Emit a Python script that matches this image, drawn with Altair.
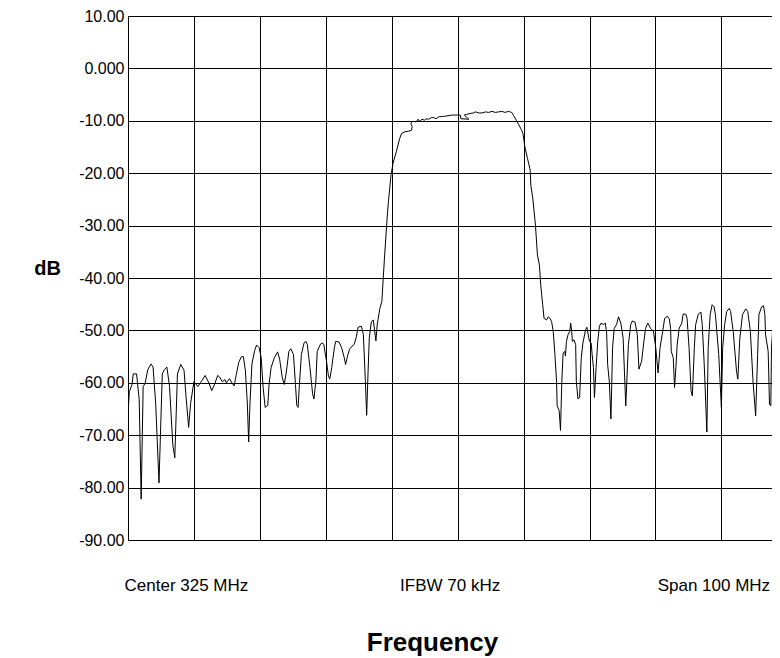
import altair as alt
import pandas as pd

# Trace readings: frequency (MHz) and level (dB)
freq = [275.0, 275.2, 275.6, 275.8, 276.3, 276.7, 277.0, 277.3, 277.6, 278.0, 278.5, 278.8, 279.2, 279.7,
        280.2, 280.5, 280.9, 281.3, 281.8, 282.1, 282.5, 283.0, 283.5, 283.8, 284.2, 284.5, 285.0, 285.6,
        286.1, 286.7, 287.3, 287.7, 288.1, 288.6, 288.9, 289.3, 289.7, 289.9, 290.4, 290.8, 291.1, 291.4,
        291.8, 292.2, 292.5, 292.8, 293.1, 293.3, 293.5, 293.8, 294.2, 294.5, 294.9, 295.2, 295.5, 295.8,
        296.2, 296.4, 296.7, 297.2, 297.7, 298.0, 298.4, 298.7, 299.0, 299.4, 299.7, 300.1, 300.4, 300.6,
        300.8, 301.0, 301.3, 301.7, 302.0, 302.2, 302.6, 303.0, 303.2, 303.5, 303.7, 304.2, 304.5, 304.7,
        305.1, 305.4, 305.6, 305.9, 306.3, 306.5, 307.0, 307.4, 307.8, 308.0, 308.3, 308.6, 309.0, 309.3,
        309.6, 309.9, 310.4, 310.7, 311.0, 311.2, 311.4, 311.6, 311.9, 312.2, 312.4, 312.6, 312.8, 313.2,
        313.5, 313.9, 314.3, 314.5, 314.9, 315.2, 315.7, 316.2, 316.5, 317.0, 317.5, 318.0, 318.1, 317.9,
        318.2, 318.7, 319.0, 319.2, 319.6, 320.0, 320.2, 320.6, 321.0, 321.4, 321.7, 322.2, 322.7, 323.2,
        323.7, 324.2, 325.0, 325.4, 325.5, 326.7, 326.0, 326.3, 326.9, 327.4, 327.7, 328.2, 328.7, 329.2,
        329.7, 330.2, 330.7, 331.2, 331.7, 332.2, 332.7, 333.2, 333.4, 333.9, 334.3, 334.7, 334.9, 335.2,
        335.6, 336.0, 336.1, 336.4, 336.8, 337.1, 337.4, 337.6, 337.9, 338.1, 338.5, 338.75, 339.0, 339.25,
        339.5, 339.75, 340.0, 340.1, 340.4, 340.6, 340.8, 341.0, 341.25, 341.35, 341.5, 341.75, 342.0, 342.15,
        342.3, 342.4, 342.65, 342.9, 343.0, 343.25, 343.5, 343.75, 344.0, 344.4, 344.6, 344.8, 345.0, 345.25,
        345.4, 345.6, 345.75, 346.0, 346.25, 346.5, 346.75, 347.1, 347.4, 347.6, 347.75, 348.0, 348.25, 348.5,
        348.75, 349.1, 349.4, 349.75, 350.1, 350.5, 350.9, 351.25, 351.5, 351.9, 352.25, 352.5, 352.9, 353.25,
        353.5, 353.85, 354.25, 354.7, 355.05, 355.4, 355.7, 356.1, 356.4, 356.8, 357.1, 357.3, 357.4, 357.7,
        357.9, 358.1, 358.3, 358.6, 359.0, 359.2, 359.6, 359.8, 360.1, 360.4, 360.6, 360.9, 361.1, 361.5,
        361.9, 362.1, 362.4, 362.8, 363.0, 363.3, 363.6, 363.9, 364.1, 364.6, 365.0, 365.2, 365.5, 365.8,
        366.2, 366.4, 366.8, 367.3, 367.5, 367.8, 368.2, 368.7, 369.0, 369.4, 369.8, 370.2, 370.5, 370.7,
        371.1, 371.4, 371.6, 371.7, 372.1, 372.3, 372.5, 372.6, 372.9, 373.2, 373.5, 373.7, 374.0, 374.4,
        374.7, 375.0]
db = [-66.0, -61.7, -60.4, -58.3, -58.3, -63.2, -82.2, -60.7, -60.1, -57.5, -56.4, -57.0, -63.9, -79.1,
      -58.3, -57.5, -57.0, -60.7, -71.9, -74.3, -58.3, -56.5, -57.6, -62.6, -68.5, -63.9, -59.8, -60.7,
      -59.8, -58.6, -60.1, -61.5, -60.4, -58.6, -58.9, -59.8, -59.4, -60.0, -59.2, -60.1, -60.6, -58.6,
      -56.1, -55.0, -55.0, -57.6, -63.9, -71.3, -63.9, -56.4, -53.9, -52.8, -53.3, -55.2, -60.9, -64.7,
      -64.3, -60.3, -57.1, -55.2, -54.1, -55.5, -59.0, -60.3, -58.1, -54.0, -53.5, -54.6, -60.3, -64.3,
      -64.7, -60.3, -54.6, -52.4, -52.1, -52.7, -57.1, -62.1, -63.1, -59.6, -54.0, -52.6, -52.4, -52.7,
      -55.8, -58.7, -59.3, -57.1, -53.3, -52.1, -52.2, -53.3, -55.2, -56.5, -54.9, -53.6, -53.0, -52.7,
      -51.4, -49.4, -49.2, -50.8, -59.6, -66.2, -58.4, -51.4, -48.4, -48.0, -49.9, -52.0, -48.9, -45.8,
      -44.5, -36.2, -28.6, -25.4, -20.3, -18.1, -15.9, -13.4, -12.4, -12.1, -12.0, -11.8, -11.1, -10.5,
      -10.1, -10.2, -9.7, -10.1, -9.7, -9.9, -9.6, -9.7, -9.4, -9.4, -9.6, -9.2, -9.2, -9.1,
      -9.0, -8.9, -8.9, -8.9, -9.6, -9.7, -8.9, -8.8, -8.6, -8.5, -8.3, -8.5, -8.5, -8.3,
      -8.4, -8.2, -8.4, -8.3, -8.2, -8.4, -8.2, -8.4, -8.8, -9.9, -10.8, -11.8, -12.4, -15.0,
      -17.2, -19.4, -22.3, -24.8, -29.9, -35.6, -37.5, -41.3, -45.1, -47.7, -48.0, -47.4, -47.7, -48.3,
      -50.2, -54.6, -59.7, -64.4, -65.3, -69.1, -59.7, -54.3, -54.0, -54.9, -52.1, -50.8, -50.2, -48.6,
      -50.2, -52.1, -51.8, -52.7, -59.7, -63.1, -62.8, -55.2, -52.4, -49.9, -49.4, -50.8, -52.1, -52.4,
      -54.6, -57.1, -62.8, -57.1, -52.1, -49.2, -48.6, -48.9, -48.6, -50.5, -56.5, -59.7, -66.9, -53.3,
      -49.6, -48.9, -47.4, -48.6, -51.5, -64.4, -52.7, -48.9, -48.2, -48.4, -50.8, -57.4, -55.9, -52.1,
      -49.6, -48.6, -49.6, -50.2, -53.3, -58.1, -53.3, -50.2, -47.7, -47.3, -47.8, -49.6, -54.0, -55.2,
      -60.9, -57.1, -52.7, -49.6, -48.6, -46.9, -46.9, -47.7, -53.3, -61.5, -62.5, -53.3, -48.9, -46.9,
      -46.5, -48.9, -56.5, -69.4, -53.3, -47.0, -45.1, -45.5, -47.0, -54.6, -64.7, -53.3, -48.9, -46.4,
      -45.8, -46.4, -50.2, -57.8, -59.3, -51.5, -47.0, -45.9, -46.4, -50.2, -59.7, -66.3, -54.6, -47.0,
      -45.5, -45.3, -47.0, -50.8, -54.0, -64.1, -64.4, -53.3, -47.7, -46.7, -46.4, -46.7, -49.9, -55.0,
      -48.0, -46.5]

y_ticks = [10, 0, -10, -20, -30, -40, -50, -60, -70, -80, -90]
x_grid = [275, 285, 295, 305, 315, 325, 335, 345, 355, 365]
x_label_at = [285, 325, 365]
x_label_text = ["Center 325 MHz", "IFBW 70 kHz", "Span 100 MHz"]

df = pd.DataFrame({"freq": freq, "db": db, "idx": list(range(len(freq)))})

label_expr = " : ".join(
    f"datum.value == {v} ? '{t}'" for v, t in zip(x_label_at, x_label_text)
) + " : ''"

y_label_expr = ("datum.value == 0 ? '0.000' : "
                "(datum.value < 0 ? '-' + format(-datum.value, '.2f') : format(datum.value, '.2f'))")

FONT = "Liberation Sans"

chart = alt.Chart(df).mark_line(color="black", strokeWidth=1, clip=True).encode(
    x=alt.X("freq:Q",
            scale=alt.Scale(domain=[275, 372.68], nice=False, zero=False),
            axis=alt.Axis(values=x_grid, grid=True, gridColor="black", gridOpacity=1, gridWidth=1,
                          domain=False, ticks=False, tickSize=0,
                          labelExpr=label_expr, labelFontSize=17, labelFont=FONT, labelColor="black",
                          labelPadding=50, labelBaseline="alphabetic", labelOffset=-8,
                          labelOverlap=False, labelFlush=False, labelBound=False,
                          title="Frequency", titleFont=FONT, titleFontSize=26, titleFontWeight="bold",
                          titleColor="black", titleX=304, titleY=110, titleAlign="center",
                          titleBaseline="alphabetic")),
    y=alt.Y("db:Q",
            scale=alt.Scale(domain=[-90, 10], nice=False, zero=False),
            axis=alt.Axis(values=y_ticks, grid=True, gridColor="black", gridOpacity=1, gridWidth=1,
                          domain=False, ticks=False, tickSize=0,
                          labelExpr=y_label_expr,
                          labelFontSize=16, labelFont=FONT, labelColor="black", labelPadding=4,
                          labelOverlap=False, labelFlush=False, labelBound=False,
                          title="dB", titleFont=FONT, titleFontSize=20, titleFontWeight="bold",
                          titleColor="black", titleAngle=0, titleX=-81, titleY=252,
                          titleAlign="center", titleBaseline="middle")),
    order="idx:Q",
).properties(
    width=644,
    height=524,
    autosize=alt.AutoSizeParams(type="none"),
    padding={"left": 120, "top": 8, "right": 0, "bottom": 118},
).configure_view(strokeWidth=0).configure(background="white")

chart.save("out.html", embed_options={"renderer": "svg", "actions": False})
